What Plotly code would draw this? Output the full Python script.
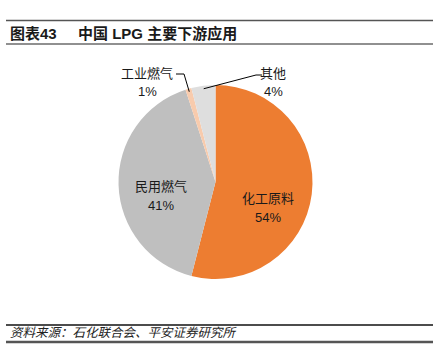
import math
import plotly.graph_objects as go

categories = ["化工原料", "民用燃气", "工业燃气", "其他"]
values = [54, 41, 1, 4]
colors = ["#ED7D31", "#BFBFBF", "#F8CBAD", "#DEDEDE"]

W, H = 437, 356
FONT = "Liberation Sans, Noto Sans CJK SC, sans-serif"

def px(x):
    return x / W

def py(y):
    return 1 - y / H

cx, cy, r = 215.5, 182, 97

fig = go.Figure(go.Pie(
    labels=categories, values=values, sort=False, direction="clockwise",
    rotation=0, marker=dict(colors=colors, line=dict(width=0)),
    textinfo="none", hoverinfo="label+percent", showlegend=False,
    domain=dict(x=[px(cx - r), px(cx + r)], y=[py(cy + r), py(cy - r)]),
))

shapes = []
for y, w, c in [(20.5, 1.5, "#555555"), (44, 1.2, "#222222"), (325, 1.5, "#111111"), (342, 2.5, "#555555")]:
    shapes.append(dict(type="line", xref="paper", yref="paper", x0=px(6), x1=px(433),
                       y0=py(y), y1=py(y), line=dict(color=c, width=w)))

total = sum(values)
cum = 0
mids = []
for v in values:
    mids.append((cum + v / 2) / total * 360)
    cum += v

def edge(angle, rr):
    a = math.radians(angle)
    return cx + rr * math.sin(a), cy - rr * math.cos(a)

ex, ey = edge(mids[2], r - 3)
shapes.append(dict(type="path", xref="paper", yref="paper",
                   path=f"M {px(ex)} {py(ey)} L {px(184)} {py(74)} L {px(176)} {py(74)}",
                   line=dict(color="#000000", width=1)))
ex, ey = edge(mids[3], r - 3)
shapes.append(dict(type="path", xref="paper", yref="paper",
                   path=f"M {px(ex)} {py(ey)} L {px(256)} {py(75)} L {px(262)} {py(75)}",
                   line=dict(color="#000000", width=1)))

ann = []
def txt(x, y, s, size=13, xanchor="center", color="#1a1a1a"):
    ann.append(dict(x=px(x), y=py(y), xref="paper", yref="paper", text=s, showarrow=False,
                    xanchor=xanchor, yanchor="middle", borderpad=0,
                    font=dict(family=FONT, size=size, color=color)))

txt(9, 33, "<b>图表43</b>", size=15, xanchor="left")
txt(77, 33, "<b>中国 LPG 主要下游应用</b>", size=15, xanchor="left")
txt(9, 333, "<i>资料来源：石化联合会、平安证券研究所</i>", size=12.5, xanchor="left", color="#222222")

pcts = [f"{v}%" for v in values]
label_pos = [(268, 198), (161, 186), (147, 73), (273, 73)]
for (x, y), c, p in zip(label_pos, categories, pcts):
    txt(x, y, c)
    txt(x, y + 19, p)

fig.update_layout(width=W, height=H, margin=dict(l=0, r=0, t=0, b=0),
                  paper_bgcolor="white", plot_bgcolor="white",
                  shapes=shapes, annotations=ann, font=dict(family=FONT))
fig.write_html("out.html", config={"displayModeBar": False},
               post_script="document.body.style.margin='0';")
